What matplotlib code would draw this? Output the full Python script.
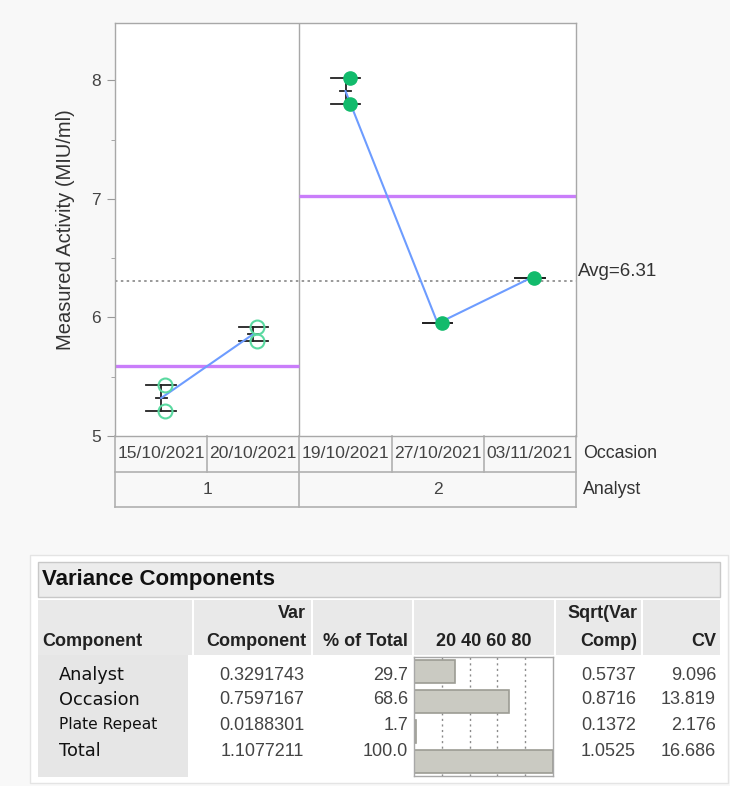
import matplotlib
matplotlib.use("Agg")
import matplotlib.pyplot as plt
import matplotlib.transforms as mtransforms
from matplotlib.patches import Rectangle
import numpy as np

# ---------------- data ----------------
occasions = ['15/10/2021', '20/10/2021', '19/10/2021', '27/10/2021', '03/11/2021']
occasion_analyst = [1, 1, 2, 2, 2]
analysts = [1, 2]
measurements = [[5.43, 5.21], [5.92, 5.80], [8.02, 7.80], [5.95], [6.33]]
y_ticks = [5, 6, 7, 8]
y_label = 'Measured Activity (MIU/ml)'

vc_components = ['Analyst', 'Occasion', 'Plate Repeat', 'Total']
vc_var = ['0.3291743', '0.7597167', '0.0188301', '1.1077211']
vc_pct = [29.7, 68.6, 1.7, 100.0]
vc_sqrt = ['0.5737', '0.8716', '0.1372', '1.0525']
vc_cv = ['9.096', '13.819', '2.176', '16.686']
bar_ticks = [20, 40, 60, 80]

# ---------------- figure ----------------
W, H = 730, 786
fig = plt.figure(figsize=(W / 100, H / 100), dpi=100)
fig.patch.set_facecolor('#f8f8f8')

SANS = ['Liberation Sans', 'DejaVu Sans']
VER = ['DejaVu Sans']

def fx(x):
    return x / W

def fy(y):
    return 1 - y / H

# chart axes
L, R, T, B = 115, 576, 23, 436
ax = fig.add_axes([fx(L), fy(B), fx(R) - fx(L), fy(T) - fy(B)])
ax.set_facecolor('white')
n = len(occasions)
ax.set_xlim(-0.5, n - 0.5)
ax.set_ylim(5, 8.485)
for s in ax.spines.values():
    s.set_color('#a8a8a8')
    s.set_linewidth(1.0)
ax.set_xticks([])
ax.set_yticks(y_ticks)
ax.set_yticks([5.5, 6.5, 7.5], minor=True)
ax.tick_params(axis='y', which='major', length=6, color='#999999', labelsize=12.5,
               labelcolor='#444444', pad=4)
ax.tick_params(axis='y', which='minor', length=3, color='#999999')
for lab in ax.get_yticklabels():
    lab.set_family(SANS)
ax.set_ylabel(y_label, fontsize=14.5, color='#333333', family=SANS, labelpad=12)

xs = np.arange(n)
means = [np.mean(m) for m in measurements]
all_vals = [v for m in measurements for v in m]
grand = np.mean(all_vals)

# grand mean dotted line
ax.axhline(grand, color='#888888', linestyle=(0, (1.5, 2.0)), lw=1.2, zorder=1)

# analyst group means and dividers
for a in analysts:
    idx = [i for i, g in enumerate(occasion_analyst) if g == a]
    vals = [v for i in idx for v in measurements[i]]
    ax.plot([min(idx) - 0.5, max(idx) + 0.5], [np.mean(vals)] * 2,
            color='#c97dfa', lw=2.4, zorder=2, solid_capstyle='butt')
    if max(idx) < n - 1:
        ax.axvline(max(idx) + 0.5, color='#a8a8a8', lw=1.0, zorder=1)

# range bars
cap = 0.16
tick = 0.06
for i, m in enumerate(measurements):
    lo, hi = min(m), max(m)
    ax.plot([xs[i], xs[i]], [lo, hi], color='#222222', lw=1.3, zorder=3)
    ax.plot([xs[i] - cap, xs[i] + cap], [lo, lo], color='#222222', lw=1.3, zorder=3)
    ax.plot([xs[i] - cap, xs[i] + cap], [hi, hi], color='#222222', lw=1.3, zorder=3)
    if len(m) > 1:
        ax.plot([xs[i] - tick, xs[i] + tick], [means[i]] * 2, color='#222222', lw=1.3, zorder=3)

# mean connecting lines (within analyst)
for a in analysts:
    idx = [i for i, g in enumerate(occasion_analyst) if g == a]
    ax.plot(xs[idx], [means[i] for i in idx], color='#6d9cff', lw=1.5, zorder=4)

# points
off = 0.045
for i, m in enumerate(measurements):
    if occasion_analyst[i] == 1:
        ax.plot([xs[i] + off] * len(m), m, 'o', mfc='none', mec='#5ad9a0', mew=1.5,
                ms=10, zorder=5)
    else:
        ax.plot([xs[i] + off] * len(m), m, 'o', color='#12bb6c', ms=9.5, zorder=5)

ax.text(1.005, (grand - 5) / 3.485 + 0.022, 'Avg=%.2f' % grand, transform=ax.transAxes,
        fontsize=13.5, color='#333333', family=SANS, ha='left', va='center')

# occasion / analyst header rows below the chart
blend = mtransforms.blended_transform_factory(ax.transData, ax.transAxes)
ph = B - T
r1 = -(472 - B) / ph
r2 = -(507 - B) / ph
lc = '#b0b0b0'
kw = dict(transform=blend, clip_on=False, color=lc, lw=1.2)
ax.plot([-0.5, n - 0.5], [r1, r1], **kw)
ax.plot([-0.5, n - 0.5], [r2, r2], **kw)
ax.plot([-0.5, -0.5], [0, r2], **kw)
ax.plot([n - 0.5, n - 0.5], [0, r2], **kw)
for i in range(1, n):
    if occasion_analyst[i] != occasion_analyst[i - 1]:
        ax.plot([i - 0.5, i - 0.5], [0, r2], **kw)
    else:
        ax.plot([i - 0.5, i - 0.5], [0, r1], **kw)
for i, o in enumerate(occasions):
    ax.text(xs[i], r1 / 2, o, transform=blend, ha='center', va='center',
            fontsize=12.6, color='#444444', family=SANS)
for a in analysts:
    idx = [i for i, g in enumerate(occasion_analyst) if g == a]
    ax.text((min(idx) + max(idx)) / 2, (r1 + r2) / 2, str(a), transform=blend,
            ha='center', va='center', fontsize=12.6, color='#444444', family=SANS)
ax.text(1.015, r1 / 2, 'Occasion', transform=ax.transAxes, ha='left', va='center',
        fontsize=12.8, color='#333333', family=SANS)
ax.text(1.015, (r1 + r2) / 2, 'Analyst', transform=ax.transAxes, ha='left', va='center',
        fontsize=12.8, color='#333333', family=SANS)

# ---------------- variance components table ----------------
tab = fig.add_axes([0, 0, 1, 1], zorder=-1)
tab.set_xlim(0, W)
tab.set_ylim(H, 0)
tab.axis('off')
tab.add_patch(Rectangle((30, 555), 698, 228, facecolor='white', edgecolor='#e4e4e4', lw=1))
tab.add_patch(Rectangle((38, 562), 682, 35, facecolor='#ececec', edgecolor='#c8c8c8', lw=1))
tab.text(42, 580, 'Variance Components', fontsize=16, fontweight='bold', family=SANS,
         color='#111111', va='center', ha='left')

col_edges = [(38, 192), (194, 311), (313, 412), (414, 554), (556, 641), (643, 720)]
for x0, x1 in col_edges:
    tab.add_patch(Rectangle((x0, 600), x1 - x0, 55, facecolor='#e9e9e9', edgecolor='none'))
tab.add_patch(Rectangle((38, 655), 150, 122, facecolor='#e6e6e6', edgecolor='none'))

hk = dict(fontsize=13, fontweight='bold', family=SANS, color='#222222', va='center')
tab.text(42, 641, 'Component', ha='left', **hk)
tab.text(306, 614, 'Var', ha='right', **hk)
tab.text(306, 641, 'Component', ha='right', **hk)
tab.text(408, 641, '% of Total', ha='right', **hk)
tab.text(484, 641, ' '.join(str(t) for t in bar_ticks), ha='center', **hk)
tab.text(637, 614, 'Sqrt(Var', ha='right', **hk)
tab.text(637, 641, 'Comp)', ha='right', **hk)
tab.text(716, 641, 'CV', ha='right', **hk)

row_y = [675, 700, 725, 751]
for i, c in enumerate(vc_components):
    fs = 11.2 if c == 'Plate Repeat' else 12.8
    tab.text(59, row_y[i], c, fontsize=fs, family=VER, color='#111111', ha='left', va='center')
    nk = dict(fontsize=13, family=SANS, color='#444444', ha='right', va='center')
    tab.text(304, row_y[i], vc_var[i], **nk)
    tab.text(408, row_y[i], '%.1f' % vc_pct[i], **nk)
    tab.text(636, row_y[i], vc_sqrt[i], **nk)
    tab.text(716, row_y[i], vc_cv[i], **nk)

# bar column
bx0, bx1, by0, by1 = 414, 553, 657, 776
bax = fig.add_axes([fx(bx0), fy(by1), fx(bx1) - fx(bx0), fy(by0) - fy(by1)])
bax.set_facecolor('white')
bax.set_xlim(0, 100)
bax.set_ylim(len(vc_pct) - 0.5, -0.5)
for s in bax.spines.values():
    s.set_color('#a8a8a8')
    s.set_linewidth(1.0)
bax.set_xticks([])
bax.set_yticks([])
for t in bar_ticks:
    bax.axvline(t, color='#8a8a8a', linestyle=(0, (1.5, 2.5)), lw=1.0, zorder=1)
bax.barh(range(len(vc_pct)), vc_pct, height=0.78, color='#cacac2', edgecolor='#9c9c94',
         lw=1.2, zorder=2)

fig.savefig('out.png', dpi=100, facecolor=fig.get_facecolor())
